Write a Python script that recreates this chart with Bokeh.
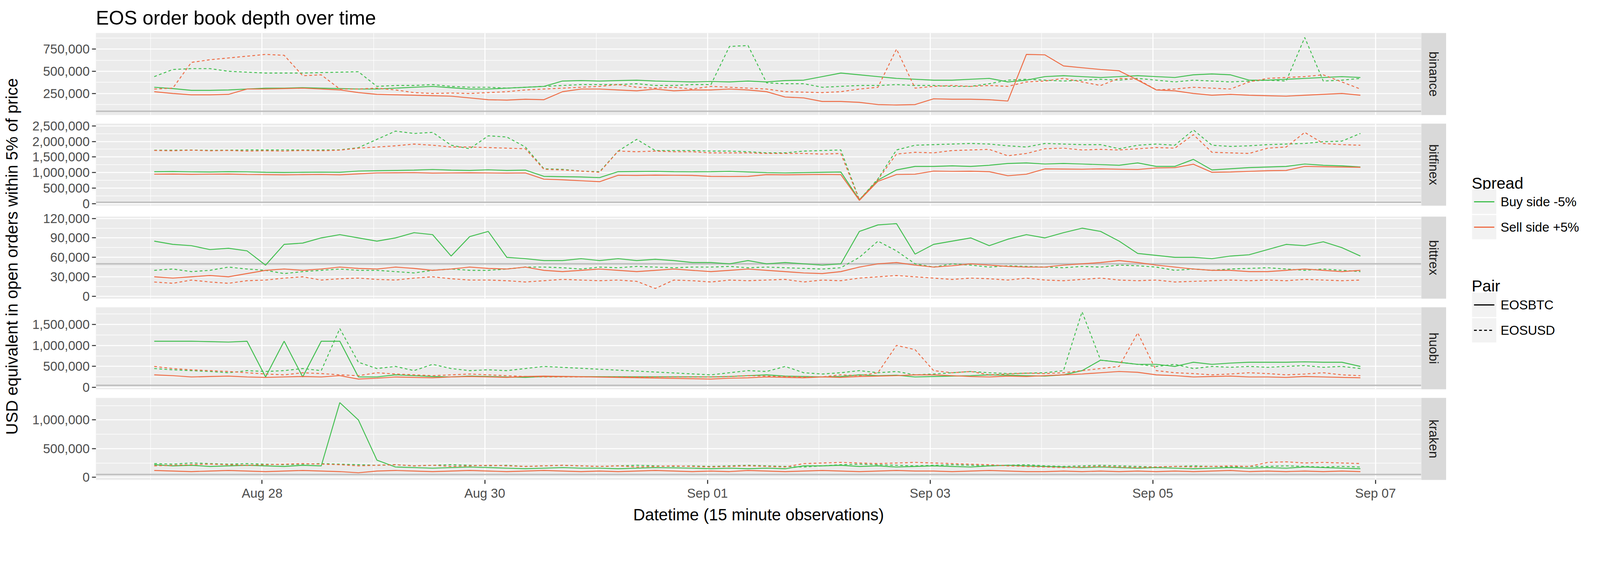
import math
from datetime import datetime, timedelta
from bokeh.plotting import figure
from bokeh.layouts import column, row
from bokeh.models import Range1d, FixedTicker, NumeralTickFormatter, DatetimeTickFormatter, Span
from bokeh.embed import file_html
from bokeh.resources import INLINE
from bokeh.core.properties import value

# ---------------- data (USD equivalent, thousands; 4-hourly readings) ----------------
exchanges = ["binance", "bitfinex", "bittrex", "huobi", "kraken"]
spread_labels = ["Buy side -5%", "Sell side +5%"]
pair_labels = ["EOSBTC", "EOSUSD"]

binance_btc_buy = [320, 305, 285, 285, 290, 300, 310, 310, 315, 310, 305, 300,
                   300, 310, 320, 330, 315, 300, 300, 310, 320, 330, 390, 395,
                   390, 395, 400, 390, 385, 380, 385, 380, 390, 380, 395, 400,
                   440, 480, 460, 440, 420, 410, 400, 400, 410, 420, 380, 400,
                   440, 450, 440, 430, 440, 450, 440, 430, 460, 470, 460, 400,
                   400, 410, 420, 430, 440, 430]
binance_usd_buy = [440, 520, 530, 530, 500, 490, 480, 480, 480, 485, 490, 495,
                   330, 340, 340, 350, 330, 320, 320, 310, 320, 330, 340, 350,
                   350, 350, 360, 340, 340, 350, 350, 780, 790, 370, 360, 360,
                   320, 330, 340, 340, 350, 340, 340, 330, 330, 360, 400, 410,
                   400, 390, 400, 410, 400, 420, 400, 380, 400, 390, 380, 390,
                   400, 390, 880, 390, 400, 420]
binance_btc_sell = [270, 250, 235, 235, 240, 300, 300, 305, 310, 300, 290, 260,
                    240, 235, 230, 225, 220, 200, 180, 175, 185, 180, 270, 300,
                    300, 290, 280, 300, 280, 290, 290, 300, 290, 270, 210, 200,
                    160, 160, 150, 125, 120, 125, 190, 185, 185, 180, 165, 690,
                    685, 560, 540, 520, 505, 400, 290, 280, 250, 230, 240, 230,
                    225, 220, 230, 240, 250, 230]
binance_usd_sell = [300, 310, 600, 630, 650, 670, 690, 680, 450, 460, 300, 300,
                    310, 290, 260, 250, 255, 250, 260, 270, 290, 300, 310, 320,
                    330, 350, 320, 310, 320, 300, 330, 320, 310, 300, 270, 265,
                    260, 270, 300, 320, 750, 310, 330, 340, 330, 340, 330, 380,
                    390, 420, 380, 340, 420, 410, 290, 300, 320, 310, 300, 380,
                    420, 430, 440, 460, 380, 300]

bitfinex_btc_buy = [1030, 1035, 1025, 1020, 1030, 1025, 1010, 1005, 1010, 1015, 1010, 1050,
                    1060, 1070, 1080, 1100, 1080, 1070, 1090, 1070, 1080, 880, 870, 860,
                    840, 1030, 1035, 1040, 1030, 1025, 1030, 1040, 1020, 1000, 990, 1000,
                    1010, 1020, 130, 760, 1086, 1199, 1199, 1218, 1199, 1237, 1293, 1312,
                    1275, 1293, 1275, 1256, 1237, 1312, 1199, 1199, 1425, 1086, 1124, 1161,
                    1180, 1199, 1275, 1237, 1218, 1180]
bitfinex_usd_buy = [1720, 1720, 1725, 1715, 1720, 1727, 1727, 1730, 1725, 1727, 1730, 1800,
                    2067, 2330, 2255, 2290, 1878, 1765, 2180, 2142, 1821, 1124, 1105, 1048,
                    1030, 1690, 2067, 1708, 1708, 1708, 1690, 1690, 1670, 1633, 1633, 1690,
                    1708, 1727, 130, 800, 1727, 1878, 1897, 1916, 1935, 1916, 1859, 1821,
                    1935, 1916, 1897, 1897, 1765, 1878, 1916, 1878, 2368, 1878, 1840, 1859,
                    1897, 1916, 1935, 1991, 2010, 2255]
bitfinex_btc_sell = [950, 955, 945, 950, 955, 940, 935, 930, 935, 940, 930, 960,
                     990, 995, 1000, 985, 990, 995, 990, 985, 990, 790, 770, 740,
                     710, 915, 910, 920, 915, 910, 880, 875, 880, 935, 930, 935,
                     940, 935, 110, 720, 940, 950, 1050, 1040, 1045, 1030, 900, 950,
                     1120, 1115, 1110, 1120, 1110, 1100, 1150, 1160, 1270, 1010, 1020, 1040,
                     1060, 1070, 1200, 1190, 1180, 1170]
bitfinex_usd_sell = [1710, 1700, 1720, 1700, 1710, 1690, 1700, 1690, 1710, 1700, 1720, 1784,
                     1821, 1859, 1916, 1878, 1821, 1821, 1803, 1784, 1765, 1105, 1086, 1048,
                     1010, 1690, 1670, 1690, 1670, 1670, 1633, 1633, 1633, 1614, 1614, 1614,
                     1595, 1614, 120, 780, 1595, 1652, 1633, 1708, 1727, 1746, 1539, 1614,
                     1765, 1784, 1727, 1746, 1727, 1765, 1803, 1784, 2217, 1652, 1633, 1614,
                     1784, 1821, 2290, 1935, 1897, 1878]

bittrex_btc_buy = [85, 80, 78, 72, 74, 70, 48, 80, 82, 90, 95, 90,
                   85, 90, 98, 95, 62, 92, 100, 60, 58, 55, 55, 58,
                   55, 58, 55, 57, 55, 52, 52, 50, 55, 50, 52, 50,
                   48, 50, 100, 110, 112, 65, 80, 85, 90, 78, 88, 95,
                   90, 98, 105, 100, 85, 66, 63, 60, 60, 58, 62, 64,
                   72, 80, 78, 84, 75, 62]
bittrex_usd_buy = [40, 42, 38, 40, 45, 42, 40, 35, 38, 40, 42, 40,
                   40, 38, 36, 40, 42, 40, 40, 42, 45, 45, 44, 42,
                   45, 44, 46, 45, 44, 45, 45, 46, 44, 45, 44, 43,
                   42, 44, 60, 85, 70, 50, 45, 50, 48, 45, 47, 46,
                   45, 44, 46, 45, 48, 47, 45, 40, 42, 40, 42, 43,
                   44, 42, 40, 42, 40, 38]
bittrex_btc_sell = [30, 28, 30, 32, 30, 35, 40, 42, 40, 42, 45, 43,
                    42, 45, 43, 40, 42, 45, 43, 42, 45, 40, 38, 40,
                    42, 40, 38, 40, 42, 40, 38, 40, 42, 40, 38, 36,
                    35, 38, 45, 50, 52, 48, 45, 47, 50, 48, 46, 45,
                    45, 48, 50, 52, 55, 52, 48, 45, 42, 40, 40, 38,
                    38, 40, 42, 40, 38, 40]
bittrex_usd_sell = [22, 20, 25, 22, 20, 24, 25, 28, 30, 25, 27, 28,
                    26, 25, 28, 30, 27, 25, 25, 24, 22, 24, 26, 25,
                    24, 25, 23, 12, 25, 24, 22, 25, 24, 25, 26, 22,
                    25, 24, 28, 30, 32, 30, 28, 26, 28, 27, 25, 28,
                    25, 24, 26, 28, 25, 24, 25, 22, 23, 24, 25, 24,
                    25, 24, 26, 25, 24, 25]

huobi_btc_buy = [1100, 1100, 1100, 1090, 1080, 1100, 250, 1100, 250, 1100, 1100, 250,
                 250, 300, 280, 260, 250, 270, 260, 250, 240, 260, None, None,
                 None, None, None, None, None, None, 250, 260, 280, 300, 270, 260,
                 250, 260, 300, 280, 290, 250, 260, 270, 280, 300, 290, 280,
                 270, 300, 400, 650, 600, 550, 550, 500, 600, 550, 580, 600,
                 600, 600, 610, 600, 600, 500]
huobi_usd_buy = [450, 420, 400, 380, 350, 400, 380, 400, 450, 400, 1400, 600,
                 450, 500, 400, 550, 450, 400, 420, 400, 450, 500, None, None,
                 None, None, None, None, None, None, 300, 350, 400, 380, 500, 350,
                 320, 350, 400, 350, 380, 300, 320, 350, 380, 350, 330, 340,
                 350, 400, 1800, 650, 600, 550, 500, 550, 450, 500, 480, 500,
                 480, 500, 520, 480, 500, 450]
huobi_btc_sell = [300, 280, 250, 260, 270, 250, 240, 250, 260, 250, 280, 200,
                  220, 250, 240, 230, 250, 260, 250, 240, 260, 270, None, None,
                  None, None, None, None, None, None, 200, 220, 230, 250, 240, 230,
                  250, 240, 260, 270, 280, 300, 300, 280, 260, 250, 270, 260,
                  280, 300, 320, 350, 380, 360, 300, 280, 250, 260, 270, 250,
                  250, 240, 260, 250, 240, 230]
huobi_usd_sell = [500, 450, 420, 400, 380, 350, 320, 300, 350, 330, 300, 280,
                  350, 320, 300, 280, 300, 320, 300, 280, 260, 250, None, None,
                  None, None, None, None, None, None, 250, 260, 280, 270, 260, 250,
                  250, 300, 280, 350, 1000, 900, 400, 350, 380, 300, 320, 340,
                  330, 350, 400, 450, 500, 1300, 400, 350, 330, 300, 320, 350,
                  330, 300, 320, 350, 300, 280]

kraken_btc_buy = [220, 200, 210, 190, 200, 210, 200, 190, 210, 200, 1300, 1000,
                  300, 180, 170, 160, 170, 180, 170, 160, 150, 160, 170, 160,
                  160, 150, 160, 170, 165, 160, 150, 160, 150, 160, 150, 200,
                  200, 210, 190, 200, 180, 190, 200, 190, 180, 200, 210, 200,
                  190, 180, 170, 180, 170, 160, 170, 160, 150, 160, 170, 160,
                  170, 160, 180, 170, 160, 150]
kraken_usd_buy = [240, 230, 250, 240, 230, 240, 230, 220, 230, 240, 230, 220,
                  210, 220, 200, 210, 220, 210, 200, 210, 190, 200, 210, 200,
                  190, 200, 210, 200, 190, 200, 190, 200, 210, 200, 190, 180,
                  200, 220, 230, 220, 210, 200, 210, 220, 210, 200, 210, 220,
                  200, 190, 200, 210, 200, 190, 180, 190, 200, 190, 180, 190,
                  190, 200, 190, 180, 190, 180]
kraken_btc_sell = [120, 110, 100, 110, 120, 110, 100, 110, 120, 110, 100, 80,
                   110, 120, 110, 100, 110, 120, 110, 100, 110, 120, 110, 100,
                   110, 100, 110, 120, 110, 100, 110, 100, 120, 110, 100, 110,
                   120, 110, 100, 110, 120, 110, 110, 100, 110, 120, 110, 100,
                   100, 110, 100, 110, 100, 110, 100, 110, 100, 110, 120, 100,
                   110, 100, 110, 100, 110, 100]
kraken_usd_sell = [200, 210, 220, 230, 220, 210, 220, 230, 240, 230, 220, 200,
                   210, 220, 200, 210, 190, 200, 210, 200, 190, 200, 210, 200,
                   190, 200, 180, 190, 200, 190, 180, 190, 200, 190, 180, 240,
                   250, 260, 250, 240, 250, 260, 250, 240, 230, 220, 200, 190,
                   180, 170, 180, 190, 180, 170, 180, 190, 180, 190, 200, 190,
                   260, 270, 250, 260, 250, 240]

reference_line = 50000

# ---------------- layout constants (CSS px) ----------------
FONT = "Liberation Sans"
GREEN = "#42BF50"
ORANGE = "#EE6C45"
PANEL_BG = "#EBEBEB"
STRIP_BG = "#D9D9D9"
YLAB_W = 60
LEFT = 185
FRAME_W = 3393
FRAME_H = 210
STRIP_W = 64
TOP1 = 84         # room for the title above the first panel
BOTTOM = 110      # room for the x axis under the last panel
# white borders (top, bottom) around each panel so the edge tick labels have room
pads = {"binance": (TOP1, 8), "bitfinex": (14, 14), "bittrex": (14, 14),
        "huobi": (8, 14), "kraken": (8, BOTTOM)}
LINE_W = 2.4
DASH = "7 6"
TICK_FS = "33px"
AXT_FS = "42px"

DAY0 = datetime(2018, 8, 27)
START = datetime(2018, 8, 27, 0, 45)
N = len(binance_btc_buy)
times = [START + timedelta(hours=4 * i) for i in range(N)]
EPOCH = datetime(1970, 1, 1)


def ms(d):
    return (d - EPOCH).total_seconds() * 1000.0


XS = DAY0 + timedelta(days=-0.4928)
XE = DAY0 + timedelta(days=11.4115)
x_major = [ms(DAY0 + timedelta(days=1 + 2 * k)) for k in range(6)]
x_minor = [ms(DAY0 + timedelta(days=2 * k)) for k in range(6)]

panels_cfg = {
    "binance": dict(series=[binance_btc_buy, binance_usd_buy, binance_btc_sell, binance_usd_sell],
                    yr=(7000, 931000), major=[250000, 500000, 750000],
                    minor=[125000, 375000, 625000, 875000]),
    "bitfinex": dict(series=[bitfinex_btc_buy, bitfinex_usd_buy, bitfinex_btc_sell, bitfinex_usd_sell],
                     yr=(-60000, 2570000), major=[0, 500000, 1000000, 1500000, 2000000, 2500000],
                     minor=[250000, 750000, 1250000, 1750000, 2250000]),
    "bittrex": dict(series=[bittrex_btc_buy, bittrex_usd_buy, bittrex_btc_sell, bittrex_usd_sell],
                    yr=(-3700, 122800), major=[0, 30000, 60000, 90000, 120000],
                    minor=[15000, 45000, 75000, 105000]),
    "huobi": dict(series=[huobi_btc_buy, huobi_usd_buy, huobi_btc_sell, huobi_usd_sell],
                  yr=(-44000, 1908000), major=[0, 500000, 1000000, 1500000],
                  minor=[250000, 750000, 1250000, 1750000]),
    "kraken": dict(series=[kraken_btc_buy, kraken_usd_buy, kraken_btc_sell, kraken_usd_sell],
                   yr=(-45000, 1383000), major=[0, 500000, 1000000],
                   minor=[250000, 750000, 1250000]),
}
styles = [(GREEN, "solid"), (GREEN, DASH), (ORANGE, "solid"), (ORANGE, DASH)]


def blank(w, h, xr, yr, bg="white", top=0, bottom=0):
    f = figure(frame_width=w, frame_height=h, x_range=xr, y_range=yr,
               output_backend="svg", toolbar_location=None,
               min_border=0, min_border_left=0, min_border_right=0, min_border_top=top,
               min_border_bottom=bottom, background_fill_color=bg, border_fill_color="white",
               outline_line_color=None, x_axis_location=None, y_axis_location=None)
    f.xgrid.visible = False
    f.ygrid.visible = False
    return f


def make_panel(name, first=False, last=False):
    cfg = panels_cfg[name]
    top, bottom = pads[name]
    p = figure(frame_width=FRAME_W, frame_height=FRAME_H, x_axis_type="datetime",
               x_range=Range1d(XS, XE), y_range=Range1d(*cfg["yr"]),
               output_backend="svg", toolbar_location=None,
               min_border_left=LEFT, min_border_right=0,
               min_border_top=top, min_border_bottom=bottom,
               background_fill_color=PANEL_BG, border_fill_color="white",
               outline_line_color=None)
    if first:
        p.title.text = "EOS  order book depth over time"
        p.title.text_font = FONT
        p.title.text_font_size = "50px"
        p.title.text_font_style = "normal"
        p.title.text_color = "black"
        p.title.align = "left"
        p.title.standoff = 22
    xt = FixedTicker(ticks=x_major, minor_ticks=x_minor)
    yt = FixedTicker(ticks=cfg["major"], minor_ticks=cfg["minor"])
    p.xaxis.ticker = xt
    p.xgrid.ticker = xt
    p.yaxis.ticker = yt
    p.ygrid.ticker = yt
    for g in (p.xgrid, p.ygrid):
        g.grid_line_color = "white"
        g.grid_line_width = 2.7
        g.minor_grid_line_color = "white"
        g.minor_grid_line_width = 1.3
    for ax in (p.xaxis, p.yaxis):
        ax.axis_line_color = None
        ax.major_tick_in = 0
        ax.major_tick_out = 10
        ax.major_tick_line_width = 2.7
        ax.major_tick_line_color = "#333333"
        ax.minor_tick_line_color = None
        ax.major_label_text_font = FONT
        ax.major_label_text_font_size = TICK_FS
        ax.major_label_text_color = "#4D4D4D"
        ax.axis_label_text_font = FONT
        ax.axis_label_text_font_style = "normal"
        ax.axis_label_text_font_size = AXT_FS
        ax.axis_label_text_color = "black"
    p.yaxis.formatter = NumeralTickFormatter(format="0,0")
    p.yaxis.major_label_standoff = 6
    p.xaxis.formatter = DatetimeTickFormatter(days="%b %d", months="%b %d", hours="%b %d")
    p.xaxis.major_label_standoff = 5
    if last:
        p.xaxis.axis_label = "Datetime (15 minute observations)"
        p.xaxis.axis_label_standoff = 10
    else:
        p.xaxis.visible = False
    p.add_layout(Span(location=reference_line, dimension="width", line_color="#BEBEBE",
                      line_width=3.6, level="underlay"))
    for vals, (col, dash) in zip(cfg["series"], styles):
        xs = [t for t, v in zip(times, vals) if v is not None]
        ys = [v * 1000 for v in vals if v is not None]
        p.line(xs, ys, line_color=col, line_width=LINE_W, line_dash=dash)
    return p


def make_strip(name):
    top, bottom = pads[name]
    s = blank(STRIP_W, FRAME_H, Range1d(0, 1), Range1d(0, 1), bg=STRIP_BG,
              top=top, bottom=min(bottom, 14))
    s.text(x=[0.5], y=[0.5], text=[name], angle=-math.pi / 2, text_align="center",
           text_baseline="middle", text_font=value(FONT), text_font_size=TICK_FS,
           text_color="#1A1A1A")
    return s


panel_rows = []
for i, name in enumerate(exchanges):
    panel_rows.append(row(make_panel(name, first=(i == 0), last=(i == len(exchanges) - 1)),
                          make_strip(name), spacing=0))
panels_col = column(*panel_rows, spacing=0)

# vertical centre of the stacked panel frames (for the shared y axis title)
heights = [pads[n][0] + FRAME_H + pads[n][1] for n in exchanges]
STACK_H = sum(heights)
frames_top = pads["binance"][0]
frames_bottom = STACK_H - pads["kraken"][1]
frames_mid_from_top = (frames_top + frames_bottom) / 2.0
ylab_fig = blank(YLAB_W, STACK_H, Range1d(0, YLAB_W), Range1d(0, STACK_H))
ylab_fig.text(x=[30], y=[STACK_H - frames_mid_from_top],
              text=["USD equivalent in open orders within 5% of price"],
              angle=math.pi / 2, text_align="center", text_baseline="middle",
              text_font=value(FONT), text_font_size=AXT_FS, text_color="black")

# legend drawn in its own figure (pixel coordinates, y downward)
LW, LH = 345, 1000
leg = blank(LW, LH, Range1d(0, LW), Range1d(LH, 0))


def legend_block(title, title_y, labels, colors, dashes, centers):
    leg.text(x=[65], y=[title_y], text=[title], text_font=value(FONT), text_font_size="41px",
             text_color="black", text_baseline="alphabetic")
    for lab, c, d, yc in zip(labels, colors, dashes, centers):
        leg.rect(x=[97], y=[yc], width=62, height=62, fill_color="#F2F2F2", line_color=None)
        leg.line(x=[71, 123], y=[yc, yc], line_color=c, line_width=2.8, line_dash=d)
        leg.text(x=[139], y=[yc], text=[lab], text_font=value(FONT), text_font_size=TICK_FS,
                 text_color="black", text_baseline="middle")


legend_block("Spread", 468, spread_labels, [GREEN, ORANGE], ["solid", "solid"], [516, 581])
legend_block("Pair", 731, pair_labels, ["black", "black"], ["solid", DASH], [780, 845])

layout = row(ylab_fig, panels_col, leg, spacing=0)
open("out.html", "w").write(file_html(layout, INLINE))
